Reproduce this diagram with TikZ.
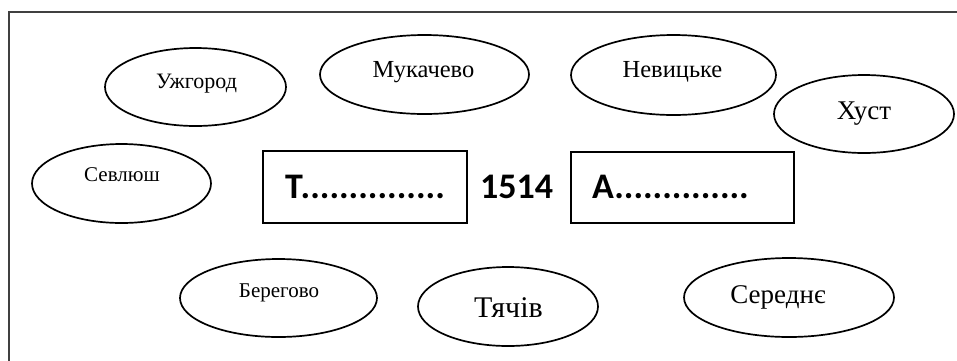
\documentclass[tikz,border=0pt]{standalone}
\usepackage{fontspec}
\setmainfont{Liberation Serif}
\newfontfamily\calib{Carlito Bold}
\usetikzlibrary{shapes.geometric}
\begin{document}
\begin{tikzpicture}[x=1pt,y=-1pt,
  oval/.style={draw,ellipse,line width=1.7pt,inner sep=0pt},
  frame/.style={draw,line width=1.7pt},
  lbl/.style={inner sep=0pt,anchor=base},
  boxtxt/.style={inner sep=0pt,anchor=base west,font=\calib\fontsize{36}{40}\selectfont}]
\useasboundingbox (0,0) rectangle (957,360);
\fill[white] (0,0) rectangle (957,360);
\coordinate (bl) at (9,362);
\coordinate (tl) at (9,12);
\coordinate (tr) at (959,12);
\draw[black!75,line width=1.2pt] (bl) -- (tl) -- (tr);
% ellipses
\node[oval,minimum width=181pt,minimum height=78pt] (uzh) at (195.5,87) {};
\node[oval,minimum width=209pt,minimum height=79pt] (muk) at (424.5,74.5) {};
\node[oval,minimum width=205pt,minimum height=80pt] (nev) at (673.5,75) {};
\node[oval,minimum width=180pt,minimum height=78pt] (khu) at (864,114) {};
\node[oval,minimum width=179pt,minimum height=79pt] (sev) at (121.5,183.5) {};
\node[oval,minimum width=197pt,minimum height=78pt] (ber) at (278.5,298) {};
\node[oval,minimum width=180pt,minimum height=79pt] (tya) at (508,306.5) {};
\node[oval,minimum width=210pt,minimum height=79pt] (ser) at (789,297.5) {};
% labels
\node[lbl,font=\fontsize{22}{26}\selectfont] (tuzh) at (196.5,88) {Ужгород};
\node[lbl,font=\fontsize{24.5}{28}\selectfont] (tmuk) at (423.5,77) {Мукачево};
\node[lbl,font=\fontsize{24.5}{28}\selectfont] (tnev) at (672.5,77) {Невицьке};
\node[lbl,font=\fontsize{27}{30}\selectfont] (tkhu) at (864,119) {Хуст};
\node[lbl,font=\fontsize{21}{24}\selectfont] (tsev) at (122,181) {Севлюш};
\node[lbl,font=\fontsize{21}{24}\selectfont] (tber) at (279,297) {Берегово};
\node[lbl,font=\fontsize{30}{34}\selectfont] (ttya) at (508.5,317) {Тячів};
\node[lbl,font=\fontsize{27}{30}\selectfont] (tser) at (778,303) {Середнє};
% boxes
\draw[frame] (263,151) rectangle (467,223);
\draw[frame] (571,152) rectangle (794,223);
\node[boxtxt] (tbox) at (285,198) {Т...............};
\node[lbl,font=\calib\fontsize{36}{40}\selectfont] (year) at (516.5,198) {1514};
\node[boxtxt] (abox) at (592,198) {А..............};
\end{tikzpicture}
\end{document}
